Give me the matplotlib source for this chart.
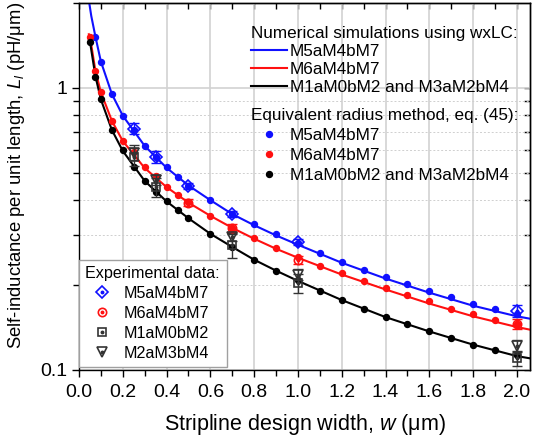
import numpy as np
import matplotlib
matplotlib.use("Agg")
from matplotlib import pyplot as plt
from matplotlib.ticker import FixedLocator, FixedFormatter, MultipleLocator, NullFormatter

plt.rcParams['font.family'] = ['Liberation Sans', 'DejaVu Sans']
plt.rcParams['mathtext.fontset'] = 'custom'
plt.rcParams['mathtext.rm'] = 'Liberation Sans'
plt.rcParams['mathtext.it'] = 'Liberation Sans:italic'

# numerical simulations (wxLC)
w_line_blue = [0.046, 0.056, 0.075, 0.1, 0.15, 0.2, 0.3, 0.4, 0.5, 0.6, 0.7, 0.8, 0.9, 1.0, 1.2, 1.4, 1.6, 1.8, 2.0, 2.06]
L_line_blue = [2.02, 1.80, 1.52, 1.24, 0.952, 0.797, 0.623, 0.521, 0.451, 0.400, 0.357, 0.326, 0.300, 0.278, 0.240, 0.211, 0.188, 0.169, 0.155, 0.152]
w_line_red = [0.045, 0.05, 0.075, 0.1, 0.15, 0.2, 0.3, 0.4, 0.5, 0.6, 0.7, 0.8, 0.9, 1.0, 1.2, 1.4, 1.6, 1.8, 2.0, 2.06]
L_line_red = [1.55, 1.52, 1.15, 0.965, 0.765, 0.648, 0.520, 0.445, 0.392, 0.352, 0.319, 0.292, 0.269, 0.250, 0.218, 0.193, 0.172, 0.155, 0.142, 0.139]
w_line_black = [0.045, 0.05, 0.075, 0.1, 0.15, 0.2, 0.3, 0.4, 0.5, 0.6, 0.7, 0.8, 0.9, 1.0, 1.2, 1.4, 1.6, 1.8, 2.0, 2.06]
L_line_black = [1.49, 1.46, 1.10, 0.91, 0.71, 0.598, 0.468, 0.396, 0.345, 0.304, 0.273, 0.246, 0.225, 0.207, 0.177, 0.154, 0.137, 0.123, 0.112, 0.110]

# equivalent radius method, eq. (45)
w_eq_blue = [0.075, 0.1, 0.15, 0.2, 0.25, 0.3, 0.35, 0.4, 0.45, 0.5, 0.6, 0.7, 0.8, 0.9, 1.0,
             1.1, 1.2, 1.3, 1.4, 1.5, 1.6, 1.7, 1.8, 1.9, 2.0]
L_eq_blue = [1.52, 1.24, 0.952, 0.797, 0.712, 0.623, 0.570, 0.523, 0.485, 0.450, 0.401, 0.358, 0.329, 0.303, 0.281,
             0.259, 0.242, 0.226, 0.213, 0.202, 0.191, 0.181, 0.172, 0.164, 0.158]
w_eq = [0.05, 0.075, 0.1, 0.15, 0.2, 0.25, 0.3, 0.35, 0.4, 0.45, 0.5, 0.6, 0.7, 0.8, 0.9, 1.0,
        1.1, 1.2, 1.3, 1.4, 1.5, 1.6, 1.7, 1.8, 1.9, 2.0]
L_eq_red = [1.52, 1.149, 0.965, 0.766, 0.650, 0.594, 0.523, 0.487, 0.446, 0.418, 0.393, 0.352, 0.320, 0.293, 0.270, 0.252,
            0.234, 0.220, 0.207, 0.195, 0.184, 0.175, 0.165, 0.158, 0.150, 0.146]
L_eq_black = [1.459, 1.097, 0.912, 0.710, 0.600, 0.523, 0.469, 0.429, 0.397, 0.369, 0.345, 0.304, 0.274, 0.246, 0.225, 0.208,
              0.191, 0.177, 0.165, 0.154, 0.146, 0.138, 0.130, 0.123, 0.118, 0.113]

# experimental data
exp_labels = ['M5aM4bM7', 'M6aM4bM7', 'M1aM0bM2', 'M2aM3bM4']
w_exp_m5 = [0.25, 0.35, 0.5, 0.7, 1.0, 2.0]
L_exp_m5 = [0.716, 0.571, 0.449, 0.357, 0.284, 0.162]
e_exp_m5 = [0.032, 0.028, 0.010, 0.008, 0.007, 0.008]
w_exp_m6 = [0.5, 0.7, 1.0, 2.0]
L_exp_m6 = [0.392, 0.318, 0.245, 0.146]
e_exp_m6 = [0.012, 0.010, 0.008, 0.006]
w_exp_m1 = [0.25, 0.35, 0.7, 1.0, 2.0]
L_exp_m1 = [0.570, 0.446, 0.277, 0.203, 0.110]
e_exp_m1 = [0.040, 0.034, 0.027, 0.016, 0.007]
w_exp_m2 = [0.25, 0.35, 0.7, 1.0, 2.0]
L_exp_m2 = [0.590, 0.472, 0.297, 0.218, 0.1215]
e_exp_m2 = [0.035, 0.020, 0.010, 0.010, 0.006]

blue = '#1010ff'
red = '#ff1010'
fs = 12.3

fig = plt.figure(figsize=(5.34, 4.43), dpi=100)
ax = fig.add_axes([79/534, 1-370/443, 451/534, 367/443])
ax.set_yscale('log')
ax.set_xlim(0, 2.06)
ax.set_ylim(0.1, 2.0)

# grid
ax.set_axisbelow(True)
ax.grid(True, axis='x', which='major', color='#d2d2d2', lw=1.2)
ax.grid(True, axis='y', which='major', color='#d2d2d2', lw=1.2)
ax.grid(True, axis='y', which='minor', color='#cfcfcf', lw=0.7, ls=(0, (2, 2)))

# lines
l1, = ax.plot(w_line_blue, L_line_blue, color=blue, lw=1.5, label='M5aM4bM7')
l2, = ax.plot(w_line_red, L_line_red, color=red, lw=1.5, label='M6aM4bM7')
l3, = ax.plot(w_line_black, L_line_black, color='black', lw=1.5, label='M1aM0bM2 and M3aM2bM4')

d1, = ax.plot(w_eq_blue, L_eq_blue, 'o', color=blue, ms=4.3, label='M5aM4bM7')
d2, = ax.plot(w_eq, L_eq_red, 'o', color=red, ms=4.3, label='M6aM4bM7')
d3, = ax.plot(w_eq, L_eq_black, 'o', color='black', ms=4.3, label='M1aM0bM2 and M3aM2bM4')

# experimental
exp_sets = [(w_exp_m5, L_exp_m5, e_exp_m5, blue, 'D', 6.0),
            (w_exp_m6, L_exp_m6, e_exp_m6, red, 'o', 6.0),
            (w_exp_m1, L_exp_m1, e_exp_m1, '#333333', 's', 5.5),
            (w_exp_m2, L_exp_m2, e_exp_m2, '#333333', 'v', 6.5)]
exp_handles = []
for w, L, e, c, m, ms in exp_sets:
    ax.errorbar(w, L, yerr=e, fmt='none', ecolor=c, elinewidth=1.0, capsize=3.5, capthick=1.0, zorder=4)
    mk, = ax.plot(w, L, m, mfc='none', mec=c, ms=ms, mew=1.2, zorder=5)
    ct, = ax.plot(w, L, 'o', color=c, ms=1.8, zorder=5)
    exp_handles.append((mk, ct))

# ticks
ax.xaxis.set_major_locator(MultipleLocator(0.2))
ax.xaxis.set_minor_locator(MultipleLocator(0.1))
ax.yaxis.set_major_locator(FixedLocator([0.1, 1]))
ax.yaxis.set_major_formatter(FixedFormatter(['0.1', '1']))
ax.yaxis.set_minor_locator(FixedLocator([0.2, 0.3, 0.4, 0.5, 0.6, 0.7, 0.8, 0.9, 2.0]))
ax.yaxis.set_minor_formatter(NullFormatter())
ax.tick_params(which='both', direction='out', labelsize=14, width=1.0, color='black')
ax.tick_params(which='major', length=5)
ax.tick_params(which='minor', length=4)
ax.tick_params(axis='x', pad=5)

top = ax.secondary_xaxis('top')
top.xaxis.set_major_locator(MultipleLocator(0.2))
top.xaxis.set_minor_locator(MultipleLocator(0.1))
top.tick_params(which='both', direction='in', labeltop=False, length=4, width=1.0)
right = ax.secondary_yaxis('right')
right.yaxis.set_major_locator(FixedLocator([0.1, 1]))
right.yaxis.set_minor_locator(FixedLocator([0.2, 0.3, 0.4, 0.5, 0.6, 0.7, 0.8, 0.9]))
right.tick_params(which='both', direction='in', labelright=False, length=4, width=1.0)
right.yaxis.set_minor_formatter(NullFormatter())
for a in (ax, top, right):
    for s in a.spines.values():
        s.set_linewidth(1.0)

ax.set_xlabel(r'Stripline design width, $w$ ($\mathrm{\mu}$m)', fontsize=15.5, labelpad=8)
ax.set_ylabel(r'Self-inductance per unit length, $L_l$ (pH/$\mathrm{\mu}$m)', fontsize=13.3)
ax.yaxis.set_label_coords(-0.115, 0.53)

# legends
leg1 = ax.legend(handles=[l1, l2, l3], title='Numerical simulations using wxLC:', alignment='left',
                 loc='upper left', bbox_to_anchor=(0.381, 0.937), frameon=False, fontsize=fs,
                 title_fontsize=fs, borderpad=0, handlelength=2.1, handletextpad=0.2,
                 labelspacing=0.18, borderaxespad=0)
leg1._legend_handle_box.sep = 5
ax.add_artist(leg1)
leg2 = ax.legend(handles=[d1, d2, d3], title='Equivalent radius method, eq. (45):', alignment='left',
                 loc='upper left', bbox_to_anchor=(0.381, 0.715), frameon=False, fontsize=fs,
                 title_fontsize=fs, borderpad=0, handlelength=2.1, handletextpad=0.2,
                 labelspacing=0.3, borderaxespad=0, numpoints=1)
ax.add_artist(leg2)
leg3 = ax.legend(handles=exp_handles, labels=exp_labels,
                 title='Experimental data:', alignment='left', loc='lower left',
                 bbox_to_anchor=(0.0, 0.008), borderaxespad=0, fontsize=11.6, title_fontsize=11.6,
                 fancybox=False, framealpha=1, edgecolor='#a0a0a0', handlelength=2.0,
                 handletextpad=0.4, labelspacing=0.3, borderpad=0.4)
leg3.get_frame().set_linewidth(1.0)

fig.savefig('out.png', dpi=100)
